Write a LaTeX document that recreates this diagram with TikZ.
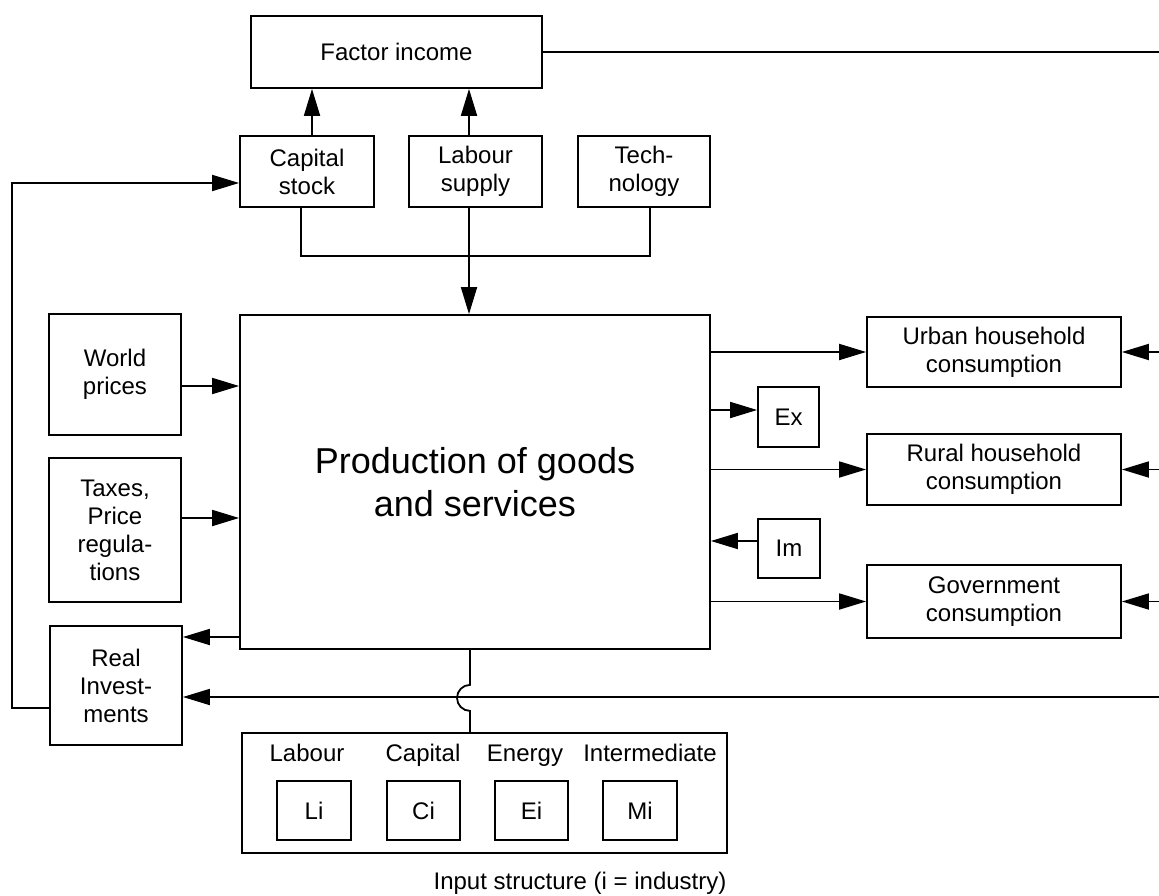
\documentclass[tikz,border=0pt]{standalone}
\usepackage{fontspec}
\setmainfont{Liberation Sans}
\usepackage{tikz}
\usetikzlibrary{arrows.meta, positioning, calc}
\tikzset{
  blk/.style={
    rectangle, draw=black, line width=1.8pt, fill=white, text=black,
    align=center, inner sep=0pt, font=\fontsize{24}{28}\selectfont},
  bigblk/.style={blk, font=\fontsize{36}{43}\selectfont},
  lbl/.style={inner sep=0pt, text height=17pt, text depth=5pt, font=\fontsize{24}{28}\selectfont},
  arr/.style={-{Triangle[length=27pt,width=16pt]}, line width=1.8pt, draw=black},
  ln/.style={line width=1.8pt, draw=black},
}

\begin{document}
\begin{tikzpicture}[x=1pt, y=-1pt]
  \useasboundingbox (0,0) rectangle (1159,896);
  %% Top row
  \node[blk, minimum width=291, minimum height=72] (factor) at (396.5,52) {Factor income};
  \node[blk, minimum width=134, minimum height=71] (capital) at (307,171.5) {Capital\\stock};
  \node[blk, minimum width=133, minimum height=71] (labour) at (475.5,171.5) {Labour\\supply};
  \node[blk, minimum width=132, minimum height=71] (tech) at (644,171.5) {Tech-\\nology};
  %% Middle
  \node[bigblk, minimum width=470, minimum height=334] (prod) at (475,482)
        {Production of goods\\and services};
  \node[blk, minimum width=132, minimum height=121] (world) at (115,374.5) {World\\prices};
  \node[blk, minimum width=132, minimum height=144] (taxes) at (115,530) {Taxes,\\Price\\regula-\\tions};
  \node[blk, minimum width=132, minimum height=119] (realinv) at (116,685.5) {Real\\Invest-\\ments};
  %% Right side
  \node[blk, minimum width=254, minimum height=70] (urban) at (994,352) {Urban household\\consumption};
  \node[blk, minimum width=254, minimum height=71] (rural) at (994,469.5) {Rural household\\consumption};
  \node[blk, minimum width=254, minimum height=73] (gov) at (994,601.5) {Government\\consumption};
  \node[blk, minimum width=61, minimum height=60] (ex) at (788.5,417) {Ex};
  \node[blk, minimum width=62, minimum height=59] (im) at (789,548.5) {Im};
  %% Input structure
  \node[blk, minimum width=485, minimum height=120] (input) at (484.5,793) {};
  \node[lbl] (labl) at (307,755) {Labour};
  \node[lbl] (capl) at (423,755) {Capital};
  \node[lbl] (enel) at (525,755) {Energy};
  \node[lbl] (intl) at (650,755) {Intermediate};
  \node[blk, minimum width=74, minimum height=59] (li) at (314,810.5) {Li};
  \node[blk, minimum width=73, minimum height=59] (ci) at (423.5,810.5) {Ci};
  \node[blk, minimum width=73, minimum height=59] (ei) at (531.5,810.5) {Ei};
  \node[blk, minimum width=74, minimum height=59] (mi) at (640,810.5) {Mi};
  \node[lbl] (caption) at (580,883) {Input structure (i = industry)};
  %% Free ends at the right edge
  \coordinate (rtop) at (1159,52);
  \coordinate (rbot) at (1159,697);
  %% Arrows
  \draw[ln] (factor.east) -- (rtop);
  \draw[arr] ([xshift=5]capital.north) -- ([xshift=5]capital.north |- factor.south);
  \draw[arr] ([xshift=-6.5]labour.north) -- ([xshift=-6.5]labour.north |- factor.south);
  \draw[ln] ([xshift=-6]capital.south) -- ++(0,48) -| ([xshift=6]tech.south);
  \draw[arr] ([xshift=-6.5]labour.south) -- ([xshift=-6.5]labour.south |- prod.north);
  \draw[arr] ([yshift=-11.5]world.east) -- ([yshift=-11.5]world.east -| prod.west);
  \draw[arr] ([yshift=12]taxes.east) -- ([yshift=12]taxes.east -| prod.west);
  \draw[arr] ([yshift=-155]prod.west) -- ([yshift=-155]prod.west -| realinv.east);
  \draw[arr] (rbot) -- (rbot -| realinv.east);
  \draw[arr] ([yshift=-22.5]realinv.west) -- ++(-37,0) |- ([yshift=-11.5]capital.west);
  \draw[ln] ([xshift=-5]prod.south) -- ++(0,35) arc(-90:-270:13) -- ([xshift=-14.5]input.north);
  \draw[arr] (prod.east |- urban.west) -- (urban.west);
  \draw[arr] ([yshift=7]ex.west -| prod.east) -- ([yshift=7]ex.west);
  \draw[arr] (prod.east |- rural.west) -- (rural.west);
  \draw[arr] ([yshift=7.5]im.west) -- ([yshift=7.5]im.west -| prod.east);
  \draw[arr] (prod.east |- gov.west) -- (gov.west);
  \draw[arr] (rbot |- urban.east) -- (urban.east);
  \draw[arr] (rbot |- rural.east) -- (rural.east);
  \draw[arr] (rbot |- gov.east) -- (gov.east);
\end{tikzpicture}
\end{document}
